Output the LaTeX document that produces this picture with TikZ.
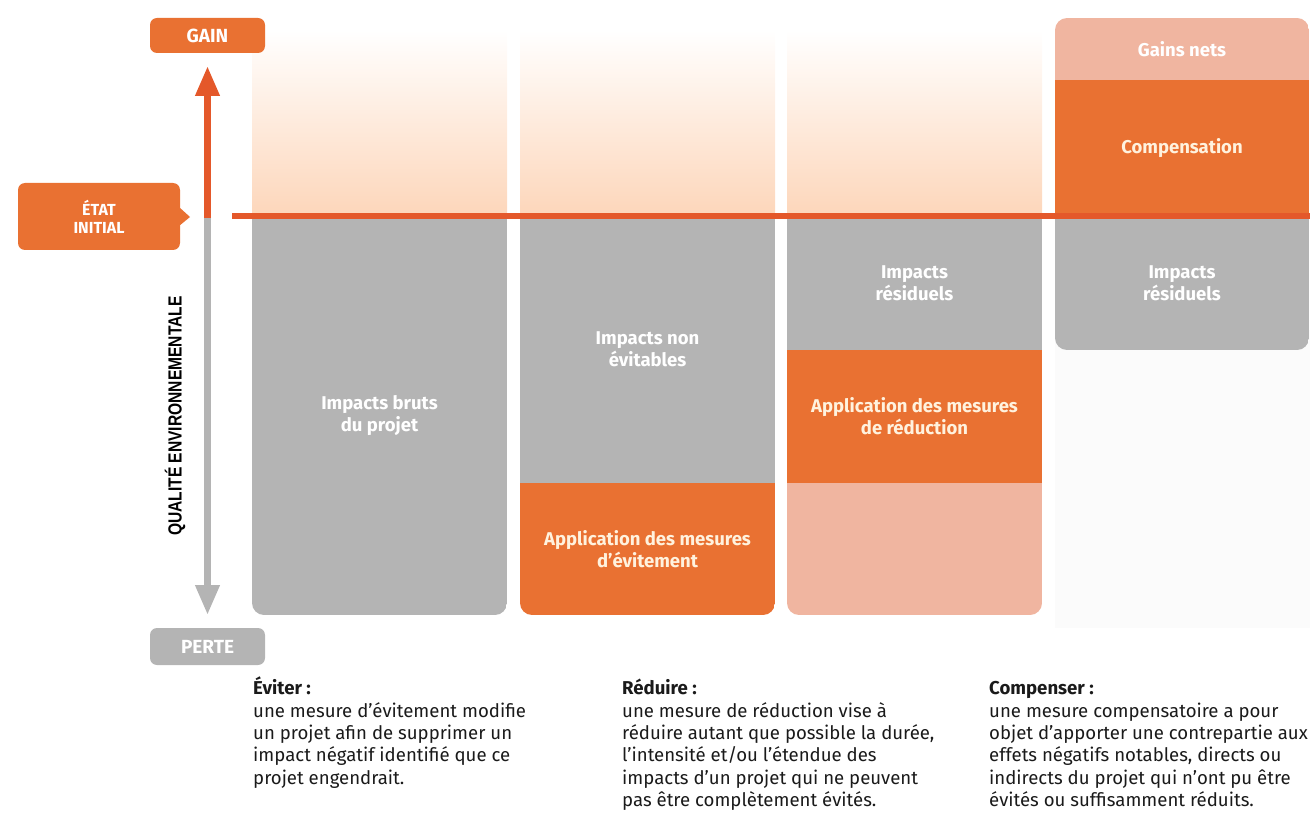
\documentclass[tikz,border=0pt]{standalone}
\usepackage{fontspec}
\setmainfont{Fira Sans}
\newfontfamily\narrowfont{Liberation Sans}[FakeStretch=0.82]
\usetikzlibrary{arrows.meta}
\definecolor{orangeA}{HTML}{E97132}
\definecolor{orangeL}{HTML}{E4582A}
\definecolor{grayA}{HTML}{B4B4B4}
\definecolor{salmon}{HTML}{F0B5A0}
\definecolor{peach}{HTML}{FDD6BA}
\definecolor{cream}{HTML}{FFF2DE}
\definecolor{faint}{HTML}{FBFBFB}
\definecolor{bodytext}{HTML}{1A1A1A}
\tikzset{
  blk/.style={rectangle, inner sep=0pt, align=center, font=\bfseries\fontsize{18.5}{22}\selectfont},
  grayblk/.style={blk, fill=grayA, text=white},
  orangeblk/.style={blk, fill=orangeA, text=cream},
  salmonblk/.style={blk, fill=salmon, text=white},
  tag/.style={rectangle, rounded corners=7pt, inner sep=0pt, text=white, font=\bfseries\fontsize{19}{19}\selectfont, minimum width=115pt, minimum height=35pt},
  desc/.style={anchor=north west, inner sep=0pt, align=left, text=bodytext, font=\fontsize{18.6}{22.3}\selectfont},
  axisline/.style={line width=7pt},
}
\begin{document}
\begin{tikzpicture}[x=1pt,y=-1pt]
\useasboundingbox (0,0) rectangle (1310,813);

% faint backdrop under column 4
\fill[faint] (1055,330) rectangle (1310,628);

% top gradients
\shade[top color=white, bottom color=peach] (252,30) rectangle (507,216);
\shade[top color=white, bottom color=peach] (520,30) rectangle (775,216);
\shade[top color=white, bottom color=peach] (787,30) rectangle (1042,216);

% column 1
\begin{scope}
\clip[rounded corners=12pt] (252,180) rectangle (507,615);
\node[grayblk, minimum width=255pt, minimum height=399pt] (brut) at (379.5,415.5) {Impacts bruts\\du projet};
\end{scope}

% column 2
\begin{scope}
\clip[rounded corners=12pt] (520,180) rectangle (775,615);
\node[grayblk, minimum width=255pt, minimum height=267pt] (nonevit) at (647.5,349.5) {Impacts non\\évitables};
\node[orangeblk, minimum width=255pt, minimum height=132pt] (evit) at (647.5,549) {Application des mesures\\d’évitement};
\end{scope}

% column 3
\begin{scope}
\clip[rounded corners=12pt] (787,180) rectangle (1042,615);
\node[grayblk, minimum width=255pt, minimum height=134pt] (resid3) at (914.5,283) {Impacts\\résiduels};
\node[orangeblk, minimum width=255pt, minimum height=133pt] (reduc) at (914.5,416.5) {Application des mesures\\de réduction};
\node[salmonblk, minimum width=255pt, minimum height=132pt] (reste) at (914.5,549) {};
\end{scope}

% column 4
\begin{scope}
\clip[rounded corners=12pt] (1055,18) rectangle (1309,350);
\node[salmonblk, minimum width=254pt, minimum height=62pt] (gains) at (1182,49) {Gains nets};
\node[orangeblk, minimum width=254pt, minimum height=136pt] (comp) at (1182,148) {Compensation};
\node[grayblk, minimum width=254pt, minimum height=134pt] (resid4) at (1182,283) {Impacts\\résiduels};
\end{scope}

% initial state line
\coordinate (h0) at (232,216.5);
\coordinate (h1) at (1310,216.5);
\draw[orangeL, line width=6pt] (h0) -- (h1);

% axis
\coordinate (axis0) at (207.5,218);
\coordinate (gaintip) at (207.5,66);
\coordinate (pertetip) at (207.5,615);
\draw[grayA, axisline, -{Triangle[length=30pt,width=23pt]}] (axis0) -- (pertetip);
\draw[orangeL, axisline, -{Triangle[length=30pt,width=23pt]}] (axis0) -- (gaintip);

\node[tag, fill=orangeA] (gain) at (207.5,35.5) {GAIN};
\node[tag, fill=grayA, minimum height=37pt] (perte) at (207.5,646.5) {PERTE};

\node[tag, fill=orangeA, minimum width=162pt, minimum height=67pt, align=center, font=\bfseries\fontsize{16}{18}\selectfont] (etat) at (99,216.5) {ÉTAT\\INITIAL};
\fill[orangeA] (179,207) -- (190,217) -- (179,226) -- cycle;

\node[rotate=90, inner sep=0pt, text=black, font=\narrowfont\bfseries\fontsize{19}{19}\selectfont] (qual) at (175,416) {QUALITÉ ENVIRONNEMENTALE};

% descriptions
\node[desc] (eviter) at (253,677) {\textbf{\vphantom{É}Éviter :}\\une mesure d’évitement modifie\\un projet afin de supprimer un\\impact négatif identifié que ce\\projet engendrait.};
\node[desc] (reduire) at (622,677) {\textbf{\vphantom{É}Réduire :}\\une mesure de réduction vise à\\réduire autant que possible la durée,\\l’intensité et/ou l’étendue des\\impacts d’un projet qui ne peuvent\\pas être complètement évités.};
\node[desc] (compenser) at (989,677) {\textbf{\vphantom{É}Compenser :}\\une mesure compensatoire a pour\\objet d’apporter une contrepartie aux\\effets négatifs notables, directs ou\\indirects du projet qui n’ont pu être\\évités ou suffisamment réduits.};
\end{tikzpicture}
\end{document}
